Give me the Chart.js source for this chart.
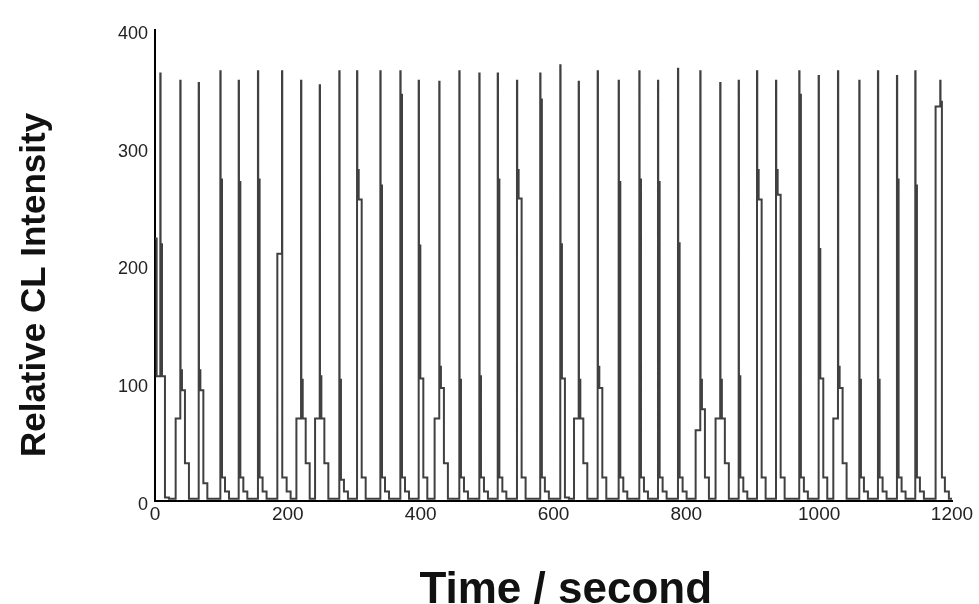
<!DOCTYPE html>
<html><head><meta charset="utf-8">
<script src="https://cdn.jsdelivr.net/npm/chart.js@4"></script>
<style>html,body{margin:0;padding:0;background:#fff;}#wrap{width:979px;height:604px;}</style>
</head><body><div id="wrap"><canvas id="c" width="979" height="604"></canvas></div>
<script>
// ---- data ----
const xTicks = [0, 200, 400, 600, 800, 1000, 1200];
const yTicks = [0, 100, 200, 300, 400];
const startTime = [0, 2.5];
const startValue = [223, 106];
const baseLevel = 2;
const peakTime = [8.0, 38.1, 65.8, 98.4, 126.0, 155.0, 191.2, 219.9, 248.0, 277.5,
  304.2, 339.3, 369.4, 397.0, 428.0, 458.2, 488.3, 516.0, 545.0, 580.0,
  610.2, 637.9, 666.5, 698.1, 729.2, 757.3, 787.4, 821.0, 851.0, 878.8,
  906.4, 935.0, 970.0, 999.2, 1028.3, 1060.4, 1088.5, 1117.1, 1144.7, 1182.3];
const peakHeight = [363, 357, 355, 365, 357, 365, 365, 357, 353, 365,
  365, 365, 365, 357, 356, 365, 363, 363, 357, 363,
  370, 356, 365, 357, 365, 357, 367, 365, 355, 357,
  365, 357, 365, 361, 365, 357, 365, 361, 365, 357];
const preStep = [0, 70, 0, 0, 0, 0, 210, 70, 70, 0,
  0, 0, 0, 0, 70, 0, 0, 0, 0, 0,
  0, 70, 0, 0, 0, 0, 0, 60, 70, 0,
  0, 0, 0, 0, 70, 0, 0, 0, 0, 335];
const shoulder1 = [218, 111, 111, 273, 271, 273, 20, 103, 106, 103,
  281, 268, 345, 217, 114, 103, 106, 273, 281, 341,
  218, 103, 114, 271, 273, 271, 219, 103, 103, 106,
  281, 281, 345, 214, 114, 103, 103, 273, 268, 339];
const shoulder2 = [106, 94, 94, 20, 20, 20, 20, 70, 70, 18,
  256, 20, 20, 104, 96, 20, 20, 20, 257, 20,
  104, 70, 96, 20, 20, 20, 20, 78, 70, 20,
  256, 260, 20, 104, 96, 20, 20, 20, 20, 20];
const shoulder3 = [3, 32, 15, 8, 8, 8, 8, 32, 32, 8,
  20, 8, 8, 20, 32, 8, 8, 8, 20, 8,
  3, 32, 20, 8, 8, 8, 8, 20, 32, 8,
  20, 20, 8, 20, 32, 8, 8, 8, 8, 8];

// ---- build the trace (each point = level the signal steps to at that time) ----
const trace = [];
startTime.forEach((t, i) => trace.push({x: t, y: startValue[i]}));
peakTime.forEach((t, i) => {
  if (preStep[i] > 0) trace.push({x: t - 7, y: preStep[i]});
  trace.push({x: t, y: peakHeight[i]});
  trace.push({x: t + 0.4, y: shoulder1[i]});
  trace.push({x: t + 2.5, y: shoulder2[i]});
  trace.push({x: t + 7, y: shoulder3[i]});
  trace.push({x: t + 13, y: baseLevel});
});
trace.push({x: 1200, y: baseLevel});

new Chart(document.getElementById('c'), {
  type: 'line',
  data: {datasets: [{
    data: trace,
    stepped: true,
    borderColor: '#404040',
    borderWidth: 2,
    pointRadius: 0,
    fill: false,
    tension: 0
  }]},
  options: {
    responsive: false,
    animation: false,
    layout: {padding: {left: 0, right: 27, top: 30, bottom: 0}},
    plugins: {legend: {display: false}, tooltip: {enabled: false}},
    scales: {
      x: {
        type: 'linear', min: 0, max: 1200,
        afterBuildTicks: s => { s.ticks = xTicks.map(v => ({value: v})); },
        afterFit: s => { s.height = 103; },
        grid: {display: false, drawTicks: false, tickLength: 0},
        border: {display: true, color: '#000', width: 2},
        ticks: {padding: 2, color: '#222', maxRotation: 0, callback: v => String(v),
          font: {family: "'Liberation Sans', Arial, sans-serif", size: 19}},
        title: {display: true, text: '  Time / second', color: '#111', padding: {top: 0, bottom: 0},
          font: {family: "'Liberation Sans', Arial, sans-serif", size: 44, weight: 'bold', lineHeight: 0.62}}
      },
      y: {
        type: 'linear', min: 0, max: 400,
        afterBuildTicks: s => { s.ticks = yTicks.map(v => ({value: v})); },
        afterFit: s => { s.width = 155; },
        grid: {display: false, drawTicks: false, tickLength: 0},
        border: {display: true, color: '#000', width: 2},
        ticks: {padding: 7, labelOffset: 4, color: '#222', callback: v => String(v),
          font: {family: "'Liberation Sans', Arial, sans-serif", size: 18}},
        title: {display: true, text: 'Relative CL Intensity    ', color: '#111', padding: {top: 18, bottom: 0},
          font: {family: "'Liberation Sans', Arial, sans-serif", size: 35, weight: 'bold', lineHeight: 1}}
      }
    }
  }
});
</script>
</body></html>
